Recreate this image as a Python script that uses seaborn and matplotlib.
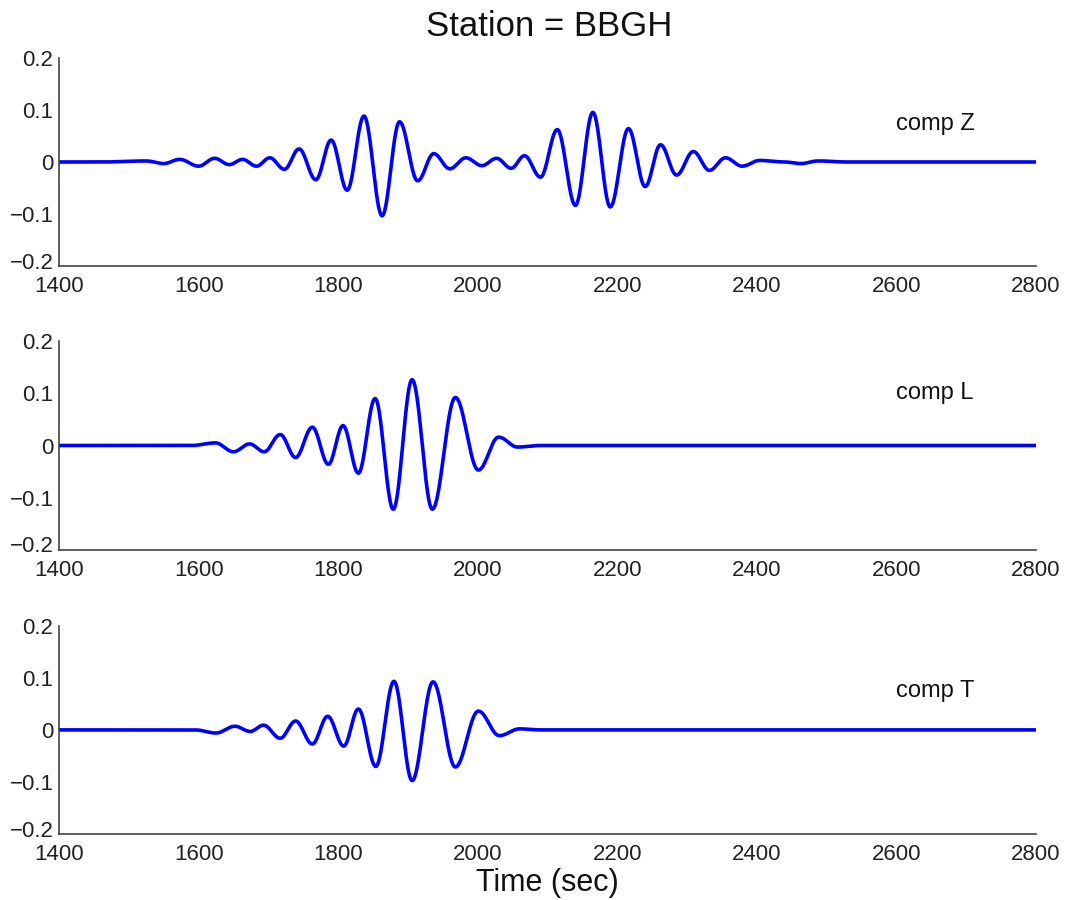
import numpy as np
import pandas as pd
import matplotlib
matplotlib.use("Agg")
import matplotlib.pyplot as plt
import matplotlib.transforms as mtransforms
import seaborn as sns

# Extrema of each waveform component: (time in sec, amplitude)
comp_z_t = [1400, 1460, 1525, 1550, 1573, 1600, 1623, 1644, 1663, 1683, 1702, 1723,
            1744, 1768, 1790, 1813, 1837, 1863, 1888, 1914, 1937, 1960, 1983, 2006,
            2027, 2048, 2067, 2090, 2114, 2140, 2165, 2190, 2216, 2240, 2262, 2285,
            2309, 2332, 2355, 2379, 2404, 2440, 2463, 2488, 2530, 2800]
comp_z_a = [0.0, 0.0, 0.002, -0.003, 0.005, -0.008, 0.007, -0.005, 0.005, -0.008, 0.008, -0.014,
            0.025, -0.034, 0.042, -0.054, 0.088, -0.103, 0.077, -0.036, 0.016, -0.013, 0.008, -0.007,
            0.007, -0.012, 0.012, -0.029, 0.062, -0.083, 0.095, -0.086, 0.064, -0.047, 0.033, -0.025,
            0.020, -0.016, 0.008, -0.008, 0.003, 0.0, -0.003, 0.002, 0.0, 0.0]

comp_l_t = [1400, 1590, 1624, 1650, 1673, 1694, 1717, 1739, 1763, 1786, 1807, 1829,
            1853, 1879, 1906, 1935, 1968, 2001, 2030, 2057, 2090, 2800]
comp_l_a = [0.0, 0.0, 0.005, -0.012, 0.003, -0.012, 0.021, -0.023, 0.035, -0.036, 0.038, -0.053,
            0.090, -0.122, 0.126, -0.122, 0.092, -0.047, 0.016, -0.003, 0.0, 0.0]

comp_t_t = [1400, 1595, 1625, 1652, 1674, 1693, 1717, 1739, 1763, 1785, 1808, 1829,
            1854, 1880, 1906, 1936, 1968, 2001, 2031, 2060, 2090, 2800]
comp_t_a = [0.0, 0.0, -0.006, 0.007, -0.003, 0.009, -0.016, 0.017, -0.027, 0.026, -0.031, 0.040,
            -0.070, 0.093, -0.097, 0.092, -0.071, 0.036, -0.011, 0.002, 0.0, 0.0]

components = ["comp Z", "comp L", "comp T"]
label_y = [0.073, 0.100, 0.075]
x_ticks = [1400, 1600, 1800, 2000, 2200, 2400, 2600, 2800]
y_ticks = [-0.2, -0.1, 0, 0.1, 0.2]
y_tick_labels = ["\u22120.2", "\u22120.1", "0", "0.1", "0.2"]


def trace(times, amps, step=0.5):
    """Join successive extrema with half-cosine arcs to get a smooth trace."""
    xs, ys = [], []
    for (t0, a0), (t1, a1) in zip(zip(times[:-1], amps[:-1]), zip(times[1:], amps[1:])):
        n = max(int((t1 - t0) / step), 2)
        s = np.linspace(0, 1, n, endpoint=False)
        xs.append(t0 + s * (t1 - t0))
        ys.append((a0 + a1) / 2 + (a0 - a1) / 2 * np.cos(np.pi * s))
    xs.append([times[-1]])
    ys.append([amps[-1]])
    return pd.DataFrame({"time": np.concatenate(xs), "amp": np.concatenate(ys)})


sns.set_style("white")
plt.rcParams["font.family"] = ["Liberation Sans", "DejaVu Sans"]

fig = plt.figure(figsize=(10.73, 9.0), dpi=100)
boxes = [(0.055, 0.704, 0.9105, 0.232),
         (0.055, 0.389, 0.9105, 0.232),
         (0.055, 0.073, 0.9105, 0.232)]
series = [(comp_z_t, comp_z_a), (comp_l_t, comp_l_a), (comp_t_t, comp_t_a)]
lift = mtransforms.ScaledTranslation(0, 4 / 72, fig.dpi_scale_trans)

for box, (t, a), name, ly in zip(boxes, series, components, label_y):
    ax = fig.add_axes(box)
    df = trace(t, a)
    sns.lineplot(data=df, x="time", y="amp", ax=ax, color="#0000ff",
                 linewidth=2.6, sort=False, estimator=None)
    ax.set_xlim(1400, 2800)
    ax.set_ylim(-0.2, 0.2)
    ax.set_xticks(x_ticks)
    ax.set_xticklabels([str(v) for v in x_ticks])
    ax.set_yticks(y_ticks)
    ax.set_yticklabels(y_tick_labels)
    ax.set_xlabel("")
    ax.set_ylabel("")
    for side in ("top", "right"):
        ax.spines[side].set_visible(False)
    for side in ("left", "bottom"):
        ax.spines[side].set_color("#444444")
        ax.spines[side].set_linewidth(1.2)
    ax.tick_params(axis="both", direction="in", length=6, width=1.1,
                   color="#444444", labelsize=16, labelcolor="#222222")
    ax.tick_params(axis="x", pad=7)
    ax.tick_params(axis="y", pad=4)
    # nudge the lowest y label up a little so it clears the first x label
    low = ax.get_yticklabels()[0]
    low.set_transform(low.get_transform() + lift)
    ax.text(2600, ly, name, fontsize=17, color="#111111", ha="left", va="center")

fig.text(0.512, 0.971, "Station = BBGH", fontsize=25, ha="center", va="center", color="#111111")
fig.text(0.51, 0.019, "Time (sec)", fontsize=22, ha="center", va="center", color="#111111")

fig.savefig("out.png", dpi=100, facecolor="white")
